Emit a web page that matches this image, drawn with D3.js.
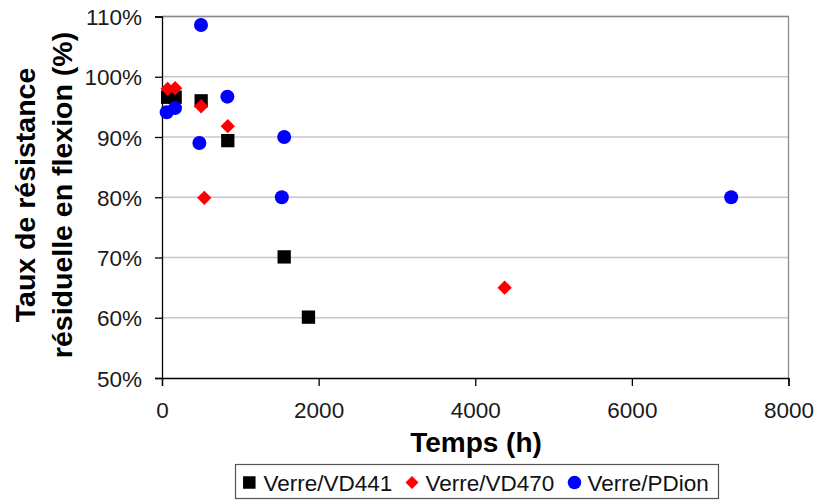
<!DOCTYPE html>
<html>
<head>
<meta charset="utf-8">
<script src="https://cdn.jsdelivr.net/npm/d3@7"></script>
<style>
  html, body { margin: 0; padding: 0; background: #fff; }
  svg { display: block; }
  text { font-family: Arial, "Liberation Sans", sans-serif; }
</style>
</head>
<body>
<svg id="chart" width="820" height="501"></svg>
<script>
// ---- Data ----
const seriesNames = ["Verre/VD441", "Verre/VD470", "Verre/PDion"];
const hoursVD441 = [72, 168, 500, 840, 1560, 1870];
const valuesVD441 = [0.966, 0.966, 0.960, 0.894, 0.701, 0.601];
const hoursVD470 = [72, 168, 500, 840, 540, 4375];
const valuesVD470 = [0.980, 0.981, 0.951, 0.918, 0.799, 0.650];
const hoursPDion = [60, 166, 498, 835, 477, 1560, 1530, 7268];
const valuesPDion = [0.941, 0.948, 1.086, 0.967, 0.890, 0.900, 0.800, 0.800];
const xTicks = [0, 2000, 4000, 6000, 8000];
const yTicks = [0.5, 0.6, 0.7, 0.8, 0.9, 1.0, 1.1];
const xTitle = "Temps (h)";
const yTitleLines = ["Taux de résistance", "résiduelle en flexion (%)"];

const series = [
  { name: seriesNames[0], x: hoursVD441, y: valuesVD441, color: "#000000", shape: "square" },
  { name: seriesNames[1], x: hoursVD470, y: valuesVD470, color: "#ff0000", shape: "diamond" },
  { name: seriesNames[2], x: hoursPDion, y: valuesPDion, color: "#0000ff", shape: "circle" }
];

// ---- Layout ----
const svg = d3.select("#chart");
const L = 162, R = 788.5, T = 16.5, B = 378;

const x = d3.scaleLinear().domain([0, 8000]).range([L, R]);
const y = d3.scaleLinear().domain([0.5, 1.1]).range([B, T]);

// gridlines
svg.append("g").selectAll("line").data(yTicks.filter(d => d > 0.5)).join("line")
  .attr("x1", L).attr("x2", R)
  .attr("y1", d => y(d)).attr("y2", d => y(d))
  .attr("stroke", "#c8c8c8").attr("stroke-width", 1.3);

// top / right border
svg.append("path")
  .attr("d", `M${L},${T}H${R}V${B}`)
  .attr("fill", "none").attr("stroke", "#8a8a8a").attr("stroke-width", 1.3);

// axes
const fmtPct = d3.format(".0%");
const yAxis = svg.append("g").attr("transform", `translate(${L},0)`)
  .call(d3.axisLeft(y).tickValues(yTicks).tickFormat(fmtPct).tickSize(7).tickPadding(13));
const xAxis = svg.append("g").attr("transform", `translate(0,${B})`)
  .call(d3.axisBottom(x).tickValues(xTicks).tickFormat(d3.format("d")).tickSize(8).tickPadding(16));

[xAxis, yAxis].forEach(g => {
  g.select(".domain").attr("stroke", "#000").attr("stroke-width", 1.3);
  g.selectAll(".tick line").attr("stroke", "#000").attr("stroke-width", 1.3);
  g.selectAll(".tick text").attr("fill", "#1a1a1a")
    .style("font-size", "22.5px").style("font-family", "Arial, 'Liberation Sans', sans-serif");
});
yAxis.selectAll(".tick text").attr("dy", "0.36em");

// axis titles
svg.append("text")
  .attr("x", 476).attr("y", 452)
  .attr("text-anchor", "middle")
  .style("font-size", "28px").style("font-weight", "bold")
  .attr("fill", "#000")
  .text(xTitle);

const yt = svg.append("text")
  .attr("transform", "translate(0,195) rotate(-90)")
  .attr("text-anchor", "middle")
  .style("font-size", "28.5px").style("font-weight", "bold")
  .attr("fill", "#000");
yTitleLines.forEach((t, i) => {
  yt.append("tspan").attr("x", 0).attr("y", i === 0 ? 35 : 71.5).text(t);
});

// markers
const symbolFor = (shape, size) => {
  if (shape === "square") return d3.symbol().type(d3.symbolSquare).size(size * size)();
  if (shape === "circle") return d3.symbol().type(d3.symbolCircle).size(Math.PI * size * size / 4)();
  // diamond with given diagonal
  const h = size / 2;
  return `M0,${-h}L${h},0L0,${h}L${-h},0Z`;
};
const sizes = { square: 13.3, diamond: 14.3, circle: 14 };

series.forEach(s => {
  const pts = s.x.map((d, i) => [d, s.y[i]]);
  svg.append("g").selectAll("path").data(pts).join("path")
    .attr("transform", d => `translate(${x(d[0])},${y(d[1])})`)
    .attr("d", symbolFor(s.shape, sizes[s.shape]))
    .attr("fill", s.color);
});

// legend
const lg = svg.append("g");
lg.append("rect")
  .attr("x", 235.5).attr("y", 464.5).attr("width", 483).attr("height", 34)
  .attr("fill", "#fff").attr("stroke", "#555").attr("stroke-width", 1.2);
const legendMarkerX = [249.3, 412, 574.5];
const legendTextX = [263.5, 425.5, 587.5];
const legendSizes = { square: 12.5, diamond: 13, circle: 13.5 };
series.forEach((s, i) => {
  lg.append("path")
    .attr("transform", `translate(${legendMarkerX[i]},482.5)`)
    .attr("d", symbolFor(s.shape, legendSizes[s.shape]))
    .attr("fill", s.color);
  lg.append("text")
    .attr("x", legendTextX[i]).attr("y", 490.5)
    .style("font-size", "22.5px").attr("fill", "#111")
    .text(s.name);
});
</script>
</body>
</html>
